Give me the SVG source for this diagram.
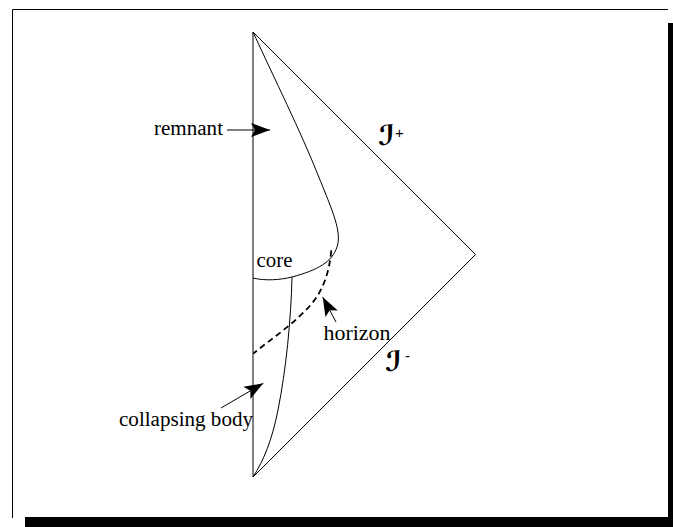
<svg xmlns="http://www.w3.org/2000/svg" width="673" height="527" viewBox="0 0 673 527">
<style>
.ln{fill:none;stroke:#000;stroke-width:1}
.lbl{font-family:"Liberation Serif","Times New Roman",serif;font-size:20px;fill:#000}
.scri{font-family:"DejaVu Sans",serif;font-size:28px;font-weight:bold;font-style:italic;fill:#000}
.sup{font-family:"Liberation Sans",sans-serif;font-size:15px;fill:#000}
</style>
<defs>
<marker id="ah" markerUnits="userSpaceOnUse" markerWidth="22" markerHeight="18" refX="20" refY="8" orient="auto" viewBox="0 0 22 16">
<path d="M20,8 L1,1 L5,8 L1,15 Z" fill="#000"/>
</marker>
</defs>
<rect width="673" height="527" fill="#fff"/>
<g id="frame">
<rect x="25" y="517" width="648" height="10" fill="#000"/>
<rect x="668" y="23" width="5" height="504" fill="#000"/>
<path class="ln" d="M12.5,518 V9.5 H668"/>
</g>
<g id="diagram">
<path class="ln" d="M253,32 V477 M253,32 L475.5,254.5 L253,477"/>
<path id="remnant-boundary" class="ln" d="M253,32 C275,80 300,130 318,175 C333,212 342,232 337,247 C332,262 318,270 292,277"/>
<path id="core-line" class="ln" d="M253,278 C265,281 280,280 292,277"/>
<path id="body-line" class="ln" d="M292,277 C291,320 286,370 278,410 C272,440 264,460 253,477"/>
<path id="horizon-line" fill="none" stroke="#000" stroke-width="1.8" stroke-dasharray="6,4" d="M331.3,250.4 C329,275 322,295 304,312 C288,328 270,340 253.2,353.6"/>
</g>
<g id="connectors">
<line class="ln" x1="227" y1="130" x2="270" y2="130" marker-end="url(#ah)"/>
<line class="ln" x1="336" y1="322" x2="322.7" y2="297" marker-end="url(#ah)"/>
<line class="ln" x1="221" y1="408" x2="263.3" y2="383.3" marker-end="url(#ah)"/>
</g>
<g id="labels">
<text class="lbl" x="154" y="135" textLength="69" lengthAdjust="spacingAndGlyphs">remnant</text>
<text class="lbl" x="119" y="426" textLength="134" lengthAdjust="spacingAndGlyphs">collapsing body</text>
<text class="lbl" x="256.5" y="267" textLength="36" lengthAdjust="spacingAndGlyphs">core</text>
<text class="lbl" x="323.5" y="340" textLength="67" lengthAdjust="spacingAndGlyphs">horizon</text>
<text class="scri" x="378" y="145">ℐ</text>
<text class="sup" x="395" y="138">+</text>
<text class="scri" x="385" y="371">ℐ</text>
<text class="sup" x="405" y="361">-</text>
</g>
</svg>
